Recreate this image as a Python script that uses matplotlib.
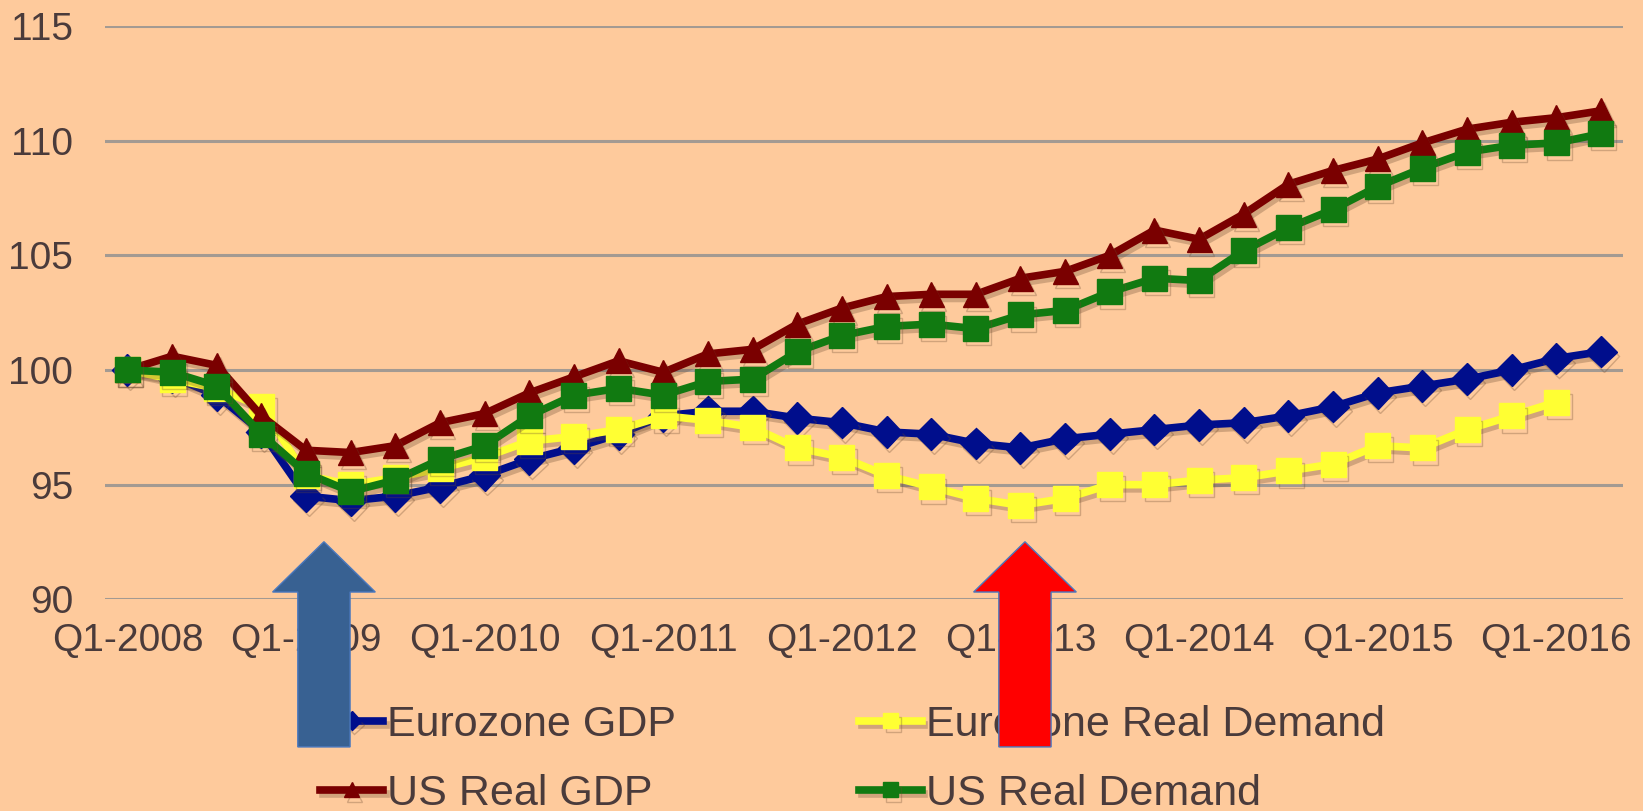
import matplotlib
matplotlib.use("Agg")
import matplotlib.pyplot as plt
import matplotlib.patheffects as pe
import matplotlib.transforms as mtransforms
from matplotlib.patches import FancyArrow

plt.rcParams["font.family"] = ["Liberation Sans", "DejaVu Sans"]

# quarterly index, Q1-2008 = 100
quarters = [f"Q{q}-{y}" for y in range(2008, 2017) for q in range(1, 5)][:34]
tick_labels = [f"Q1-{y}" for y in range(2008, 2017)]

eurozone_gdp = [100.0, 99.7, 98.9, 97.3, 94.5, 94.3, 94.5, 94.9, 95.4, 96.1,
                96.6, 97.2, 98.0, 98.2, 98.2, 97.9, 97.7, 97.3, 97.2, 96.8,
                96.6, 97.0, 97.2, 97.4, 97.6, 97.7, 98.0, 98.4, 99.0, 99.3,
                99.6, 100.0, 100.5, 100.8]
eurozone_demand = [100.0, 99.6, 99.2, 98.4, 95.4, 95.0, 95.3, 95.7, 96.2, 96.9,
                   97.1, 97.4, 98.0, 97.8, 97.5, 96.6, 96.2, 95.4, 94.9, 94.4,
                   94.1, 94.4, 95.0, 95.0, 95.2, 95.3, 95.6, 95.9, 96.7, 96.6,
                   97.4, 98.0, 98.6]
us_gdp = [100.0, 100.6, 100.2, 98.0, 96.5, 96.4, 96.7, 97.7, 98.1, 99.0,
          99.7, 100.4, 99.9, 100.7, 100.9, 102.0, 102.7, 103.2, 103.3, 103.3,
          104.0, 104.3, 105.0, 106.1, 105.7, 106.8, 108.1, 108.7, 109.2, 109.9,
          110.5, 110.8, 111.0, 111.3]
us_demand = [100.0, 99.9, 99.3, 97.2, 95.5, 94.7, 95.2, 96.1, 96.7, 98.0,
             98.9, 99.2, 98.9, 99.5, 99.6, 100.8, 101.5, 101.9, 102.0, 101.8,
             102.4, 102.6, 103.4, 104.0, 103.9, 105.2, 106.2, 107.0, 108.0, 108.8,
             109.5, 109.8, 109.9, 110.3]

bg = "#FECA9C"
text_col = "#4A3B3B"
grid_col = "#A39A92"

fig = plt.figure(figsize=(16.43, 8.11), dpi=100, facecolor=bg)
ax = fig.add_axes([0.064, 0.261, 0.924, 0.707])
ax.set_facecolor(bg)

shadow = [pe.SimpleLineShadow(offset=(2, -3), shadow_color="#6b4a30", alpha=0.3), pe.Normal()]

x = list(range(len(quarters)))
l1, = ax.plot(x, eurozone_gdp, color="#000E8C", lw=5.5, marker="D", ms=16,
              label="Eurozone GDP", path_effects=shadow, zorder=3)
l2, = ax.plot(x[:len(eurozone_demand)], eurozone_demand, color="#FFFF33", lw=5.5, marker="s", ms=18,
              label="Eurozone Real Demand", path_effects=shadow, zorder=4)
l3, = ax.plot(x, us_gdp, color="#7A0000", lw=5.5, marker="^", ms=18,
              label="US Real GDP", path_effects=shadow, zorder=5)
l4, = ax.plot(x, us_demand, color="#117A11", lw=5.5, marker="s", ms=18,
              label="US Real Demand", path_effects=shadow, zorder=6)

ax.set_xlim(-0.5, 33.5)
ax.set_ylim(90, 115)
ax.set_yticks([90, 95, 100, 105, 110, 115])
ax.set_xticks(range(0, 33, 4))
ax.set_xticklabels(tick_labels)
ax.grid(axis="y", color=grid_col, lw=2.2)
ax.set_axisbelow(True)
for s in ax.spines.values():
    s.set_visible(False)
ax.tick_params(axis="both", length=0, labelsize=28, colors=text_col)
ax.tick_params(axis="y", pad=23)
ax.tick_params(axis="x", pad=17)

fig.legend([l1, l3, l2, l4], [l1.get_label(), l3.get_label(), l2.get_label(), l4.get_label()],
           ncol=2, loc="upper left", bbox_to_anchor=(0.195, 0.131), frameon=False,
           fontsize=31, labelcolor=text_col, handlelength=1.45, handletextpad=0.1,
           columnspacing=4.25, labelspacing=0.68, borderpad=0, borderaxespad=0,
           markerscale=0.6)

# the two highlight arrows (x in quarter units, y in figure fraction)
trans = mtransforms.blended_transform_factory(ax.transData, fig.transFigure)
arrows = [(4.4, "#386192"), (20.1, "#FF0000")]
for ax_x, fill in arrows:
    arr = FancyArrow(ax_x, 0.079, 0, 0.253, width=1.17, head_width=2.3, head_length=0.062,
                     length_includes_head=True, transform=trans, facecolor=fill,
                     edgecolor="#4A78BE", lw=1, zorder=10, clip_on=False)
    fig.add_artist(arr)

fig.savefig("out.png", dpi=100, facecolor=bg)
